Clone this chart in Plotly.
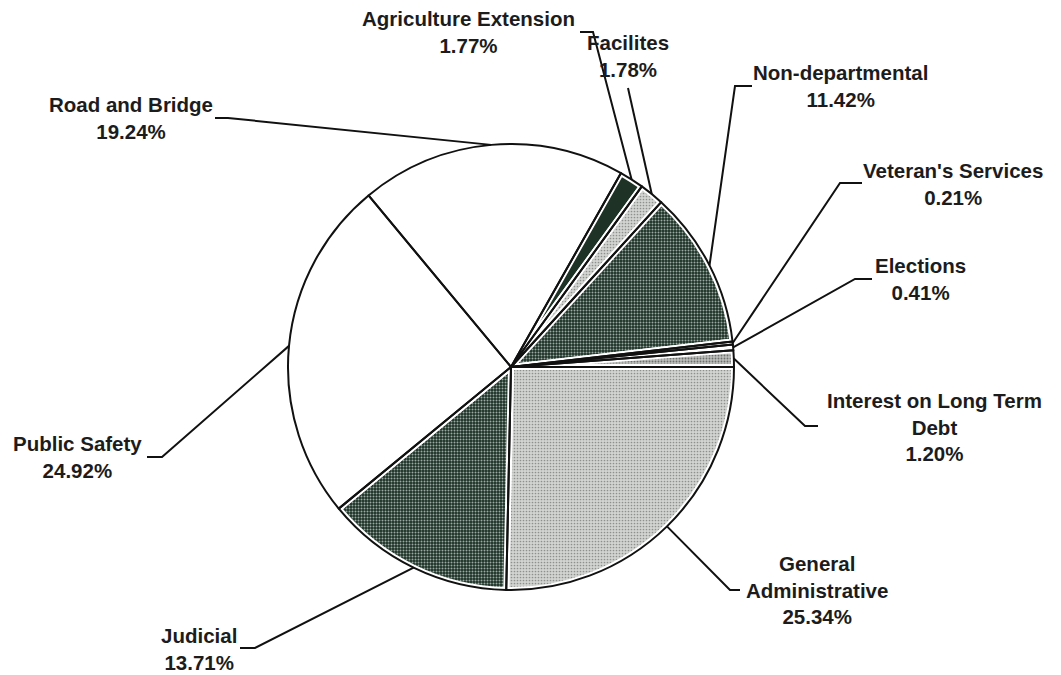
import math
import plotly.graph_objects as go

# ---- data ----
categories = ["General Administrative", "Judicial", "Public Safety", "Road and Bridge",
              "Agriculture Extension", "Facilites", "Non-departmental",
              "Veteran's Services", "Elections", "Interest on Long Term Debt"]
percents = [25.34, 13.71, 24.92, 19.24, 1.77, 1.78, 11.42, 0.21, 0.41, 1.20]

# ---- style ----
DARK_BG, DARK_FG = "#1d3026", "#9aaaa2"
LIGHT_BG, LIGHT_FG = "#d2d4d2", "#8e908e"
colors = [LIGHT_BG, DARK_BG, "#ffffff", "#ffffff", "#1e3326",
          LIGHT_BG, DARK_BG, "#13221a", "#16261c", "#bdbfbd"]
pat_shapes = [".", ".", "", "", "", ".", ".", "", "", "."]
pat_fg = [LIGHT_FG, DARK_FG, "#ffffff", "#ffffff", "#1e3326",
          LIGHT_FG, DARK_FG, "#13221a", "#16261c", "#6e706e"]
pat_solid = [0.25, 0.35, 0.3, 0.3, 0.3, 0.25, 0.35, 0.3, 0.3, 0.3]

W, H = 1061, 675
CX, CY, R = 511, 367, 223


def fx(x):
    return x / W


def fy(y):
    return 1 - y / H


# label block centres and leader elbow points (pixels); the last leader point is the slice edge
label_layout = {
    "General Administrative": dict(pos=(817, 590), text="General<br>Administrative", path=[(740, 590), (730, 590)]),
    "Judicial": dict(pos=(199, 649), text="Judicial", path=[(240, 648), (255, 648)]),
    "Public Safety": dict(pos=(77, 457), text="Public Safety", path=[(147, 457), (162, 457)]),
    "Road and Bridge": dict(pos=(131, 118), text="Road and Bridge", path=[(215, 118), (228, 118)]),
    "Agriculture Extension": dict(pos=(468, 32), text="Agriculture Extension", path=[(580, 32), (593, 32)]),
    "Facilites": dict(pos=(628, 56), text="Facilites", path=[(628, 88)]),
    "Non-departmental": dict(pos=(840, 86), text="Non-departmental", path=[(752, 86), (735, 86)]),
    "Veteran's Services": dict(pos=(953, 184), text="Veteran's Services", path=[(862, 183), (840, 183)]),
    "Elections": dict(pos=(920, 279), text="Elections", path=[(872, 279), (855, 279)]),
    "Interest on Long Term Debt": dict(pos=(934, 427), text="Interest on Long Term<br>Debt", path=[(818, 426), (805, 426)]),
}

domain = dict(x=[(CX - R) / W, (CX + R) / W], y=[1 - (CY + R) / H, 1 - (CY - R) / H])

fig = go.Figure()
# base pie: speckled fills with a wide white outline (white inner edge of each slice)
fig.add_trace(go.Pie(
    labels=categories, values=percents, sort=False, direction="clockwise", rotation=90,
    marker=dict(colors=colors, line=dict(color="#ffffff", width=6),
                pattern=dict(shape=pat_shapes, fgcolor=pat_fg, bgcolor=colors,
                             size=3, solidity=pat_solid, fillmode="replace")),
    textinfo="none", hoverinfo="skip", domain=domain, showlegend=False,
))
# overlay pie: only the thin black borders
fig.add_trace(go.Pie(
    labels=categories, values=percents, sort=False, direction="clockwise", rotation=90,
    marker=dict(colors=["rgba(0,0,0,0)"] * len(categories), line=dict(color="#111111", width=2)),
    textinfo="none", hoverinfo="skip", domain=domain, showlegend=False,
))

total = sum(percents)
cum = 0.0
shapes = []
annotations = []
font = dict(family="Liberation Sans, Arial, sans-serif", size=20.5, color="#1c1c1c", weight="bold")
for name, val in zip(categories, percents):
    mid = (cum + val / 2) / total * 360.0
    cum += val
    th = math.radians(mid)
    ex, ey = CX + R * math.cos(th), CY + R * math.sin(th)
    cfg = label_layout[name]
    pts = cfg["path"] + [(ex, ey)]
    d = "M " + " L ".join(f"{fx(x):.5f},{fy(y):.5f}" for x, y in pts)
    shapes.append(dict(type="path", path=d, xref="paper", yref="paper",
                       line=dict(color="#111111", width=2)))
    lx, ly = cfg["pos"]
    annotations.append(dict(x=fx(lx), y=fy(ly), xref="paper", yref="paper",
                            xanchor="center", yanchor="middle", showarrow=False,
                            text=f"{cfg['text']}<br>{val:.2f}%", font=font, align="center"))

fig.update_layout(
    width=W, height=H, margin=dict(l=0, r=0, t=0, b=0),
    paper_bgcolor="#ffffff", plot_bgcolor="#ffffff",
    shapes=shapes, annotations=annotations, showlegend=False,
)

fig.write_html("out.html", config={"displayModeBar": False},
               post_script="document.body.style.margin='0';")
